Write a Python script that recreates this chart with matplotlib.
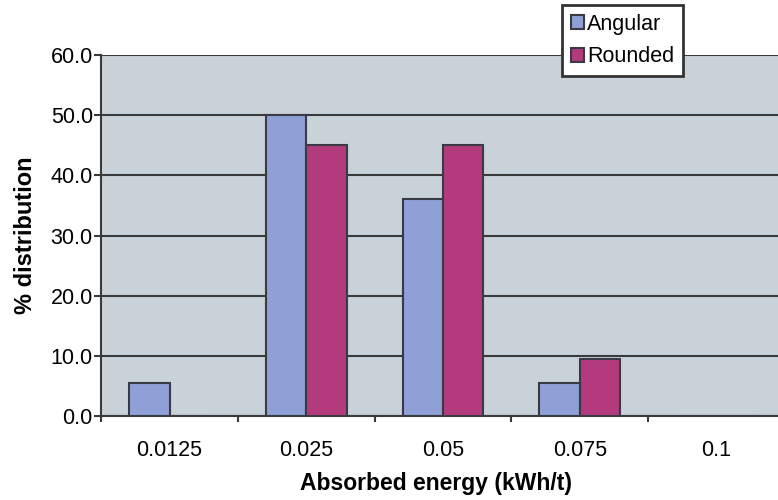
import matplotlib.pyplot as plt
import numpy as np

plt.rcParams['font.family'] = ['Liberation Sans', 'DejaVu Sans']

categories = ['0.0125', '0.025', '0.05', '0.075', '0.1']
angular = [5.5, 50.0, 36.0, 5.5, 0.0]
rounded = [0.0, 45.0, 45.0, 9.5, 0.0]

fig = plt.figure(figsize=(7.78, 5.0), dpi=100)
ax = fig.add_axes([0.13, 0.168, 0.879, 0.722])
ax.set_facecolor('#c9d1d9')

x = np.arange(len(categories))
w = 0.295
ax.bar(x - w / 2, angular, w, color='#8fa0d6', edgecolor='#3a3a44', linewidth=1.5,
       label='Angular', zorder=3)
ax.bar(x + w / 2, rounded, w, color='#b33a7c', edgecolor='#3a3a44', linewidth=1.5,
       label='Rounded', zorder=3)

ax.set_xlim(-0.5, len(categories) - 0.5)
ax.set_ylim(0, 60)
ax.set_yticks(np.arange(0, 61, 10))
ax.set_yticklabels(['%.1f' % v for v in np.arange(0, 61, 10)], fontsize=15.5)
ax.yaxis.grid(True, color='#3a3a3a', linewidth=1.5, zorder=1)
ax.set_axisbelow(True)

ax.set_xticks(x)
ax.set_xticklabels(categories, fontsize=15.5)
ax.tick_params(axis='x', length=0, pad=17)
ax.set_xticks(np.arange(-0.5, len(categories), 1), minor=True)
ax.tick_params(axis='x', which='minor', length=4, width=1.5, color='#3a3a3a')
ax.tick_params(axis='y', length=5, width=1.5, color='#3a3a3a', pad=1)

for s in ['top', 'right']:
    ax.spines[s].set_visible(False)
for s in ['left', 'bottom']:
    ax.spines[s].set_color('#3a3a3a')
    ax.spines[s].set_linewidth(1.5)

ax.set_xlabel('Absorbed energy (kWh/t)', fontsize=16.5, fontweight='bold')
ax.xaxis.set_label_coords(0.49, -0.155)
ax.set_ylabel('% distribution', fontsize=17, fontweight='bold', labelpad=10)

leg = fig.legend(loc='upper left', bbox_to_anchor=(0.723, 0.99), fontsize=15.5,
                 frameon=True, fancybox=False, handlelength=0.6, handleheight=0.6,
                 handletextpad=0.15, borderpad=0.4, labelspacing=0.55,
                 borderaxespad=0)
leg.get_frame().set_edgecolor('#333333')
leg.get_frame().set_linewidth(2)
leg.get_frame().set_alpha(1)

fig.savefig('out.png', dpi=100)
